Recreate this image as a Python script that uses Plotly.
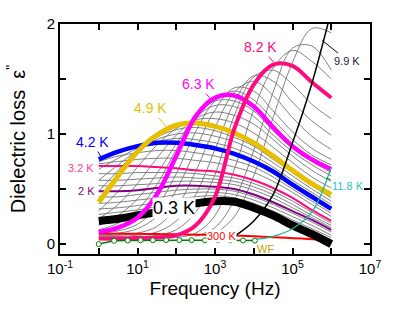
import plotly.graph_objects as go

# Measurement frequencies (Hz), half-decade steps from 1 Hz to 1 MHz
FREQ_HZ = [1, 3.162, 10, 31.62, 100, 316.2, 1000, 3162, 1e4, 3.162e4, 1e5, 3.162e5, 1e6]

# Highlighted temperatures: dielectric loss at FREQ_HZ
LOSS_0_3K = [0.21, 0.23, 0.26, 0.29, 0.33, 0.37, 0.39, 0.385, 0.33, 0.26, 0.17, 0.09, 0.0]
LOSS_2K = [0.48, 0.48, 0.49, 0.51, 0.53, 0.53, 0.52, 0.50, 0.45, 0.38, 0.30, 0.22, 0.13]
LOSS_3_2K = [0.71, 0.71, 0.71, 0.70, 0.69, 0.67, 0.66, 0.63, 0.58, 0.51, 0.42, 0.31, 0.21]
LOSS_4_2K = [0.77, 0.84, 0.89, 0.92, 0.92, 0.90, 0.87, 0.82, 0.75, 0.66, 0.54, 0.43, 0.32]
LOSS_4_9K = [0.38, 0.62, 0.84, 0.99, 1.08, 1.10, 1.07, 1.01, 0.92, 0.80, 0.67, 0.55, 0.45]
LOSS_6_3K = [0.11, 0.15, 0.24, 0.45, 0.80, 1.16, 1.33, 1.35, 1.25, 1.06, 0.89, 0.77, 0.68]
LOSS_8_2K = [0.05, 0.05, 0.055, 0.06, 0.08, 0.17, 0.43, 1.05, 1.45, 1.63, 1.62, 1.47, 1.33]
LOSS_9_9K = [None, None, None, None, None, None, None, 0.07, 0.21, 0.45, 0.92, 1.46, 2.12]
LOSS_11_8K = [None, None, None, None, None, None, None, None, 0.04, 0.07, 0.14, 0.29, 0.70]
LOSS_300K = [0.095, 0.094, 0.093, 0.091, 0.089, 0.086, 0.083, 0.078, 0.071, 0.063, 0.054, 0.045, 0.035]

# Window-free (WF) reference run
WF_FREQ_HZ = [1, 2.5, 5.6, 12, 25, 55, 120, 250, 550, 1200, 2500, 5300, 10700]
WF_LOSS = [0.0, 0.03, 0.033, 0.035, 0.035, 0.036, 0.036, 0.036, 0.035, 0.035, 0.034, 0.033, 0.032]

# Intermediate temperatures (thin grey family), same frequency grid
GREY_LOSS = [
    [0.27, 0.29, 0.31, 0.34, 0.37, 0.40, 0.41, 0.40, 0.35, 0.28, 0.20, 0.12, 0.04],
    [0.32, 0.33, 0.35, 0.38, 0.41, 0.43, 0.44, 0.42, 0.37, 0.30, 0.22, 0.14, 0.06],
    [0.37, 0.38, 0.40, 0.42, 0.45, 0.47, 0.47, 0.45, 0.40, 0.33, 0.25, 0.17, 0.08],
    [0.43, 0.43, 0.45, 0.47, 0.49, 0.50, 0.50, 0.48, 0.43, 0.36, 0.28, 0.20, 0.11],
    [0.53, 0.53, 0.54, 0.55, 0.57, 0.57, 0.56, 0.54, 0.49, 0.42, 0.33, 0.24, 0.15],
    [0.58, 0.58, 0.59, 0.60, 0.61, 0.60, 0.59, 0.57, 0.52, 0.45, 0.36, 0.26, 0.17],
    [0.64, 0.64, 0.65, 0.65, 0.65, 0.64, 0.62, 0.60, 0.55, 0.48, 0.39, 0.29, 0.19],
    [0.73, 0.75, 0.77, 0.78, 0.78, 0.76, 0.74, 0.70, 0.65, 0.57, 0.47, 0.36, 0.25],
    [0.75, 0.80, 0.83, 0.85, 0.85, 0.83, 0.80, 0.76, 0.70, 0.61, 0.50, 0.39, 0.28],
    [0.68, 0.78, 0.87, 0.93, 0.96, 0.95, 0.92, 0.87, 0.80, 0.70, 0.58, 0.47, 0.36],
    [0.58, 0.72, 0.85, 0.95, 1.00, 1.01, 0.98, 0.93, 0.85, 0.74, 0.62, 0.50, 0.39],
    [0.48, 0.67, 0.85, 0.97, 1.04, 1.06, 1.03, 0.97, 0.89, 0.77, 0.65, 0.53, 0.42],
    [0.30, 0.48, 0.70, 0.90, 1.05, 1.13, 1.14, 1.10, 1.01, 0.88, 0.74, 0.61, 0.51],
    [0.23, 0.36, 0.55, 0.78, 0.99, 1.14, 1.20, 1.17, 1.09, 0.95, 0.80, 0.67, 0.57],
    [0.17, 0.26, 0.41, 0.64, 0.91, 1.15, 1.26, 1.25, 1.16, 0.99, 0.84, 0.72, 0.62],
    [0.13, 0.19, 0.31, 0.54, 0.86, 1.16, 1.30, 1.30, 1.21, 1.03, 0.87, 0.75, 0.65],
    [0.10, 0.12, 0.18, 0.34, 0.64, 1.02, 1.30, 1.39, 1.31, 1.13, 0.95, 0.81, 0.72],
    [0.09, 0.10, 0.14, 0.25, 0.49, 0.86, 1.22, 1.42, 1.39, 1.21, 1.02, 0.87, 0.77],
    [0.08, 0.08, 0.10, 0.16, 0.33, 0.66, 1.06, 1.38, 1.48, 1.35, 1.15, 0.98, 0.86],
    [0.07, 0.07, 0.08, 0.11, 0.21, 0.45, 0.86, 1.29, 1.53, 1.48, 1.29, 1.12, 0.99],
    [0.06, 0.06, 0.065, 0.08, 0.13, 0.29, 0.63, 1.17, 1.52, 1.58, 1.45, 1.27, 1.14],
    [None, None, None, None, 0.06, 0.10, 0.26, 0.68, 1.22, 1.60, 1.76, 1.66, 1.50],
    [None, None, None, None, None, 0.07, 0.15, 0.40, 0.85, 1.38, 1.78, 1.80, 1.58],
    [None, None, None, None, None, None, 0.09, 0.25, 0.62, 1.15, 1.65, 1.96, 1.92],
]

# Labelled decades and the unlabelled decades in between
X_TICKS = [0.1, 10, 1e3, 1e5, 1e7]
X_TICK_TEXT = ["10<sup>-1</sup>", "10<sup>1</sup>", "10<sup>3</sup>", "10<sup>5</sup>", "10<sup>7</sup>"]
X_MINOR = [1, 100, 1e4, 1e6]
Y_TICKS = [0, 1, 2]
Y_MINOR = [0.5, 1.5]

FONT = "Liberation Sans, Arial, sans-serif"

fig = go.Figure()

for row in GREY_LOSS:
    fig.add_trace(go.Scatter(x=FREQ_HZ, y=row, mode="lines",
                             line=dict(color="#737373", width=0.9, shape="spline")))

highlighted = [
    (LOSS_300K, "#ff0000", 2),
    (LOSS_2K, "#800080", 2),
    (LOSS_3_2K, "#ff0a7f", 2),
    (LOSS_0_3K, "#000000", 8),
    (LOSS_4_2K, "#0000ff", 4.5),
    (LOSS_4_9K, "#e6bf00", 5),
    (LOSS_6_3K, "#ff00ff", 4.5),
    (LOSS_8_2K, "#ff0a7f", 4),
    (LOSS_9_9K, "#000000", 1.5),
    (LOSS_11_8K, "#1cb596", 1.2),
]
for ys, color, width in highlighted:
    fig.add_trace(go.Scatter(x=FREQ_HZ, y=ys, mode="lines",
                             line=dict(color=color, width=width, shape="spline")))

fig.add_trace(go.Scatter(x=WF_FREQ_HZ, y=WF_LOSS, mode="lines+markers",
                         line=dict(color="#008000", width=1.5),
                         marker=dict(symbol="circle", size=5, color="white",
                                     line=dict(color="#008000", width=1))))

# Temperature labels with leader lines: (text, log10 f, loss, colour, size, ax, ay, leader colour)
labels = [
    ("4.2 K", 0.044, 0.80, "#0000ff", 14, -8, -14, "#0000ff"),
    ("4.9 K", 1.73, 1.07, "#e6bf00", 14, -15, -18, "#e6bf00"),
    ("6.3 K", 2.95, 1.29, "#ff00ff", 14, -15, -18, "#ff00ff"),
    ("8.2 K", 4.51, 1.655, "#ff0a7f", 14, -13, -15, "#ff0a7f"),
    ("9.9 K", 5.77, 1.85, "#1a1a40", 11, 25, 20, "#000000"),
    ("11.8 K", 5.87, 0.60, "#2ec4c4", 11, 22, 8, "#008000"),
]
for text, lx, ly, color, size, ax, ay, acolor in labels:
    fig.add_annotation(x=lx, y=ly, xref="x", yref="y", text=text, showarrow=True,
                       arrowhead=0, arrowwidth=1, arrowcolor=acolor, ax=ax, ay=ay,
                       font=dict(family=FONT, size=size, color=color))

plain = [
    ("3.2 K", -0.45, 0.695, "#ff3c8c", 11, None),
    ("2 K", -0.32, 0.48, "#800080", 11, None),
    ("0.3 K", 1.94, 0.327, "#000000", 18, "white"),
    ("300 K", 3.17, 0.073, "#ff0000", 11, "white"),
    ("WF", 4.30, -0.045, "#c8a000", 11, None),
]
for text, lx, ly, color, size, bg in plain:
    fig.add_annotation(x=lx, y=ly, xref="x", yref="y", text=text, showarrow=False,
                       bgcolor=bg, borderpad=0,
                       font=dict(family=FONT, size=size, color=color))

tick_style = dict(ticks="inside", ticklen=6, tickwidth=1.5, tickcolor="black")

fig.update_layout(
    width=396, height=332,
    margin=dict(l=60, r=26, t=24, b=78),
    paper_bgcolor="white", plot_bgcolor="white",
    showlegend=False,
    font=dict(family=FONT, color="black"),
    xaxis=dict(type="log", range=[-1, 7], tickvals=X_TICKS, ticktext=X_TICK_TEXT,
               minor=dict(tickvals=X_MINOR, **tick_style),
               showline=True, linecolor="black", linewidth=2, mirror="ticks",
               showgrid=False, zeroline=False,
               tickfont=dict(size=15, family=FONT),
               title=dict(text="Frequency (Hz)", font=dict(size=19, family=FONT),
                          standoff=6),
               **tick_style),
    yaxis=dict(range=[-0.09, 2.0], tickvals=Y_TICKS,
               minor=dict(tickvals=Y_MINOR, **tick_style),
               showline=True, linecolor="black", linewidth=2, mirror="ticks",
               showgrid=False, zeroline=False,
               tickfont=dict(size=15, family=FONT),
               title=dict(text='Dielectric loss  ε<sup>"</sup>',
                          font=dict(size=20, family=FONT), standoff=16),
               **tick_style),
)

fig.write_html("out.html")
